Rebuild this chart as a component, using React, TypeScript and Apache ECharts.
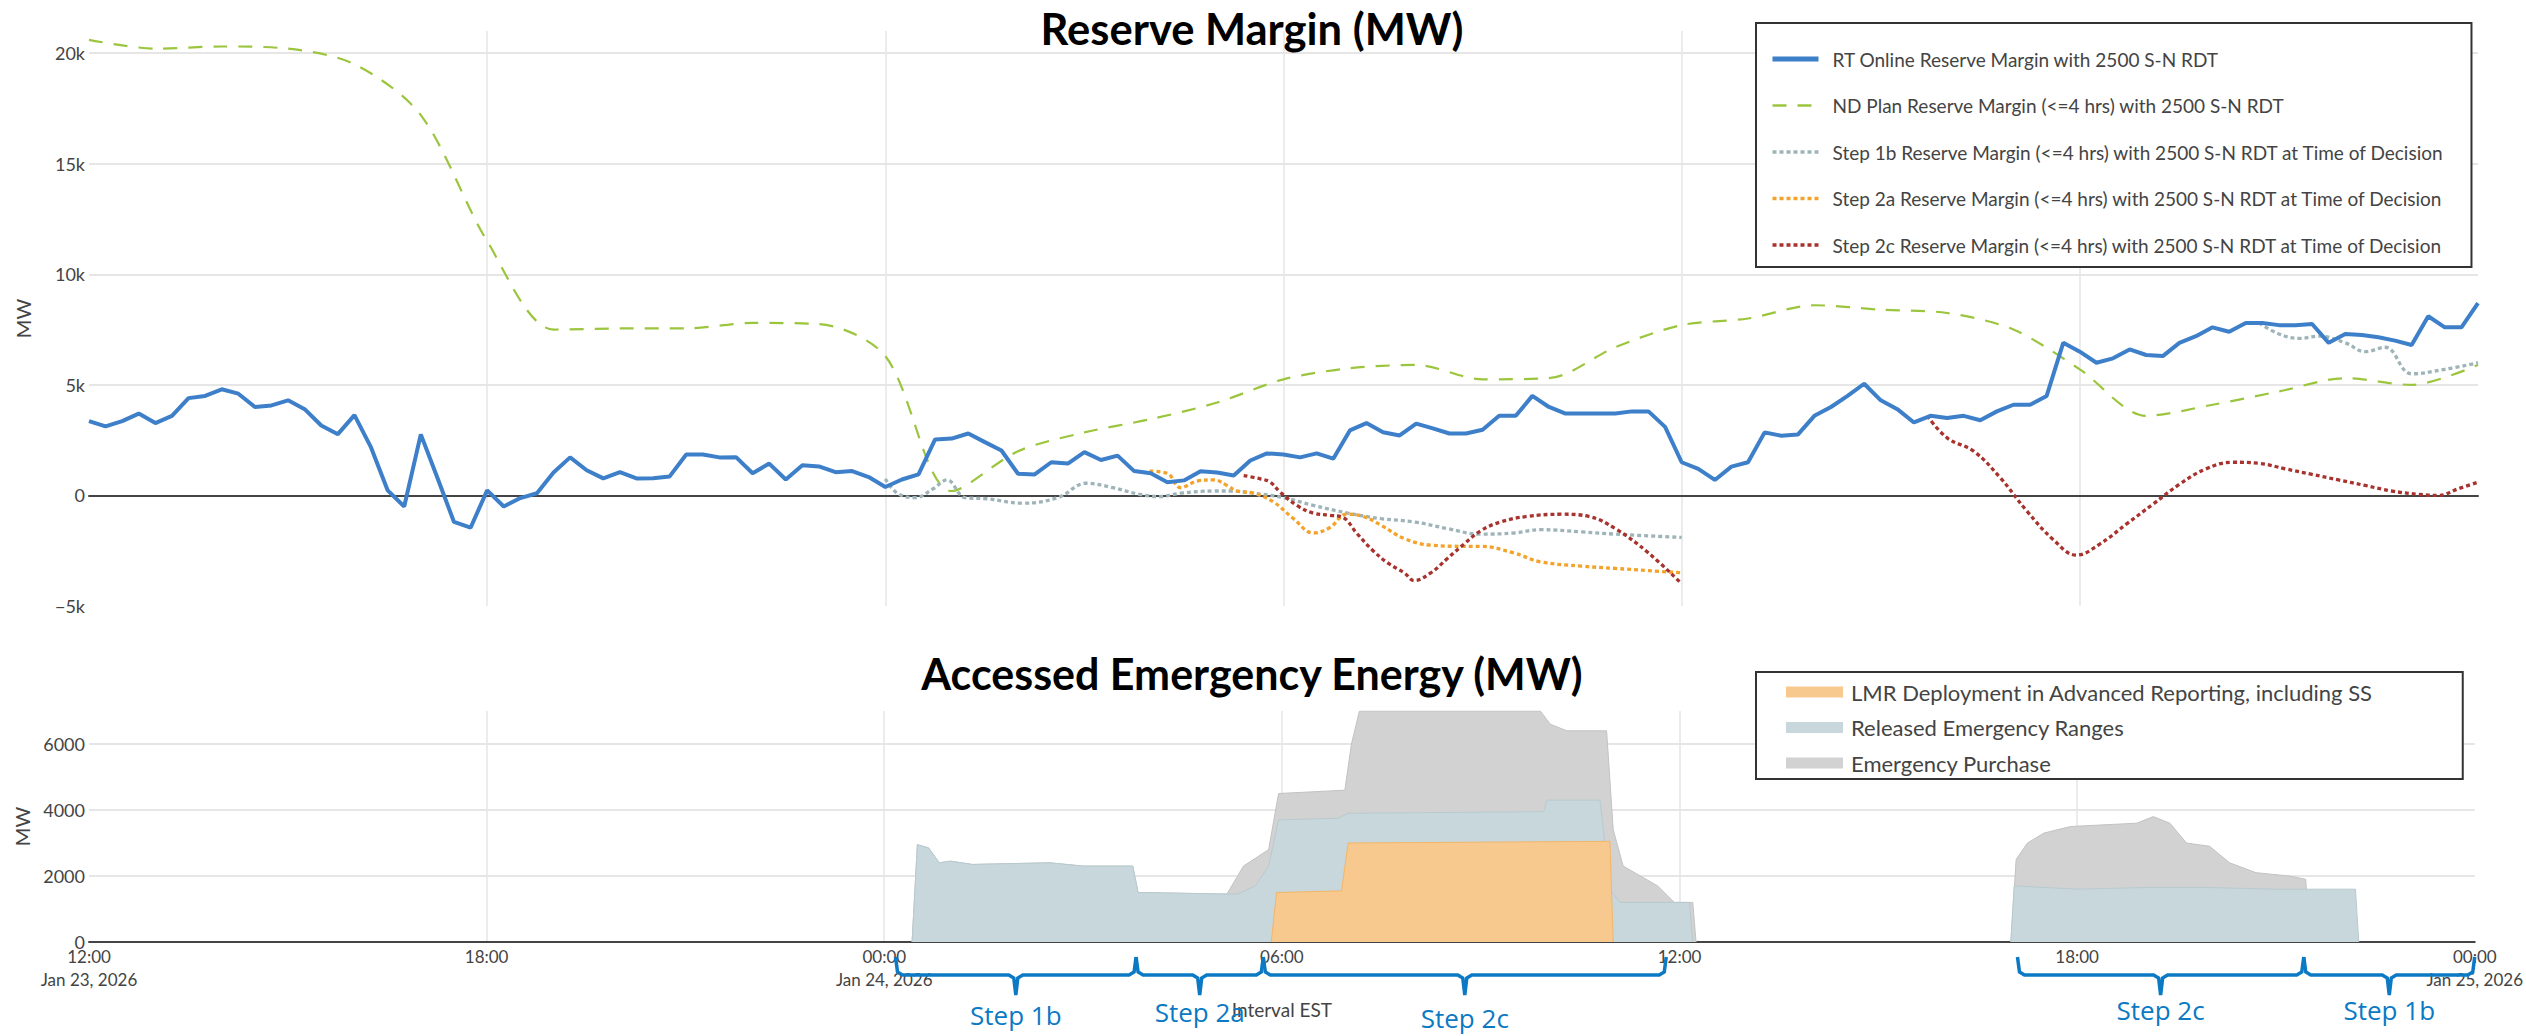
import { useEffect, useRef } from "react";
import * as echarts from "echarts";

// x values are hours since Jan 23, 2026 12:00 (EST)
const xTickLabels = [
  "12:00\nJan 23, 2026",
  "18:00",
  "00:00\nJan 24, 2026",
  "06:00",
  "12:00",
  "18:00",
  "00:00\nJan 25, 2026",
];

// RT Online Reserve Margin, 15-minute values from 12:00 Jan 23 to 00:00 Jan 25
const rtOnline = [
  3360, 3120, 3360, 3700, 3270, 3600, 4400, 4500, 4800, 4600, 4000, 4070,
  4300, 3900, 3160, 2770, 3630, 2170, 230, -500, 2760, 800, -1200, -1460,
  230, -500, -120, 100, 1040, 1720, 1140, 770, 1050, 770, 780, 860,
  1850, 1850, 1720, 1730, 1000, 1440, 720, 1360, 1310, 1050, 1100, 830,
  380, 720, 950, 2530, 2570, 2800, 2410, 2030, 980, 950, 1500, 1440,
  1960, 1600, 1800, 1100, 1000, 600, 680, 1090, 1040, 900, 1580, 1900,
  1850, 1720, 1900, 1660, 2940, 3270, 2860, 2710, 3250, 3030, 2800, 2800,
  2970, 3600, 3600, 4500, 4000, 3700, 3700, 3700, 3700, 3800, 3800, 3100,
  1500, 1200, 700, 1300, 1500, 2850, 2700, 2750, 3600, 4000, 4500, 5050,
  4300, 3900, 3300, 3600, 3500, 3600, 3400, 3800, 4100, 4100, 4500, 6900,
  6500, 6000, 6200, 6600, 6350, 6300, 6900, 7200, 7600, 7400, 7800, 7800,
  7700, 7700, 7750, 6900, 7300, 7250, 7150, 7000, 6800, 8100, 7600, 7600,
  8700,
];

// ND Plan Reserve Margin, hourly
const ndPlan = [
  20600, 20200, 20300, 20200, 19500, 17200, 11500, 7500, 7550, 7550, 7800, 7750,
  6300, 200, 2000, 2850, 3450, 4200, 5250, 5750, 5900, 5250, 5300, 6700,
  7700, 8000, 8600, 8400, 8250, 7500, 5700, 3600, 4100, 4700, 5300, 5000, 5900,
];

// [hours since start, MW]
const step1b: [number, number][] = [
  [12.0, 750], [12.18, 100], [12.45, -100], [12.72, 300], [12.93, 700], [13.2, -100],
  [13.52, -150], [14.07, -350], [14.6, -100], [15.03, 550], [15.43, 350], [15.83, 50],
  [16.13, -50], [16.45, 100], [16.95, 200], [17.2, 200], [17.55, 100], [18.0, -100],
  [18.45, -450], [18.97, -800], [19.47, -1050], [19.97, -1200], [20.47, -1500],
  [20.97, -1750], [21.47, -1700], [21.87, -1550], [22.5, -1650], [23.0, -1750], [24.0, -1900],
];
const step1bLate: [number, number][] = [
  [32.7, 7800], [33.0, 7300], [33.3, 7100], [33.6, 7200], [34.0, 6900], [34.3, 6500],
  [34.6, 6700], [35.0, 5500], [35.5, 5700], [36.0, 6000],
];
const step2a: [number, number][] = [
  [15.98, 1100], [16.25, 1000], [16.45, 350], [16.7, 650], [16.95, 700], [17.15, 450],
  [17.3, 200], [17.55, 100], [17.85, -300], [18.15, -1050], [18.45, -1700], [18.7, -1450],
  [18.95, -850], [19.2, -950], [19.47, -1350], [19.82, -1950], [20.22, -2250],
  [20.72, -2300], [20.97, -2300], [21.47, -2600], [21.87, -3000], [22.5, -3200],
  [23.0, -3300], [23.5, -3400], [24.0, -3500],
];
const step2c: [number, number][] = [
  [17.4, 900], [17.65, 750], [17.8, 600], [17.95, 150], [18.2, -450], [18.45, -800],
  [18.7, -900], [18.9, -1000], [19.1, -1700], [19.35, -2500], [19.57, -3050],
  [19.82, -3500], [19.97, -3850], [20.22, -3500], [20.47, -2850], [20.72, -2200],
  [20.97, -1600], [21.27, -1200], [21.67, -950], [22.2, -850], [22.6, -950],
  [23.0, -1500], [23.5, -2600], [24.0, -4000],
];
const step2cLate: [number, number][] = [
  [27.7, 3600], [28.0, 2600], [28.4, 2000], [28.8, 800], [29.2, -700], [29.6, -2000],
  [29.95, -2700], [30.3, -2200], [30.7, -1300], [31.1, -400], [31.5, 500], [31.9, 1200],
  [32.3, 1500], [32.7, 1450], [33.1, 1200], [33.5, 950], [33.9, 700], [34.3, 450],
  [34.7, 200], [35.1, 50], [35.4, 0], [35.7, 300], [36.0, 600],
];

// Bottom chart, breakpoints [hours since start, MW]; null breaks the area
const emergencyPurchase: [number, number | null][] = [
  [12.42, 0], [12.5, 2950], [12.67, 2850], [12.83, 2400], [13.0, 2450], [13.33, 2350],
  [14.5, 2400], [15.0, 2300], [15.75, 2300], [15.83, 1500], [17.17, 1450], [17.42, 2300],
  [17.8, 2800], [17.95, 4500], [18.95, 4600], [19.05, 6000], [19.17, 7000], [21.9, 7000],
  [22.05, 6600], [22.3, 6400], [22.9, 6400], [23.0, 3400], [23.15, 2300], [23.67, 1700],
  [23.92, 1200], [24.2, 1200], [24.25, 0], [26, null],
  [29.0, 0], [29.08, 2500], [29.25, 3000], [29.5, 3300], [29.9, 3500], [30.9, 3600],
  [31.15, 3800], [31.4, 3600], [31.65, 3000], [32.0, 2900], [32.3, 2400], [32.7, 2100],
  [33.2, 2000], [33.45, 1900], [33.5, 0],
];
const releasedRanges: [number, number | null][] = [
  [12.42, 0], [12.5, 2950], [12.67, 2850], [12.83, 2400], [13.0, 2450], [13.33, 2350],
  [14.5, 2400], [15.0, 2300], [15.75, 2300], [15.83, 1500], [17.33, 1450], [17.6, 1700],
  [17.8, 2300], [17.95, 3700], [18.85, 3750], [19.0, 3900], [21.95, 3950], [22.0, 4300],
  [22.8, 4300], [22.95, 1600], [23.1, 1200], [24.15, 1200], [24.2, 0], [26, null],
  [29.0, 0], [29.05, 1700], [30.0, 1600], [31.0, 1650], [32.0, 1650], [33.0, 1600],
  [34.2, 1600], [34.25, 0],
];
const lmrDeployment: [number, number | null][] = [
  [17.84, 0], [17.92, 1500], [18.9, 1550], [19.0, 3000], [22.95, 3050], [23.0, 0],
];

// Step braces: [start hour, end hour, label, label y]
const braces: [number, number, string, number][] = [
  [12.17, 15.8, "Step 1b", 1015],
  [15.8, 17.72, "Step 2a", 1012],
  [17.72, 23.8, "Step 2c", 1018],
  [29.1, 33.42, "Step 2c", 1010],
  [33.42, 36.0, "Step 1b", 1010],
];

const FONT = "Lato";
const BLUE = "#3d7fc8";
const GREEN = "#9cc53e";
const GRAYBLUE = "#9fb4b8";
const ORANGE = "#f3a32c";
const RED = "#a8322d";
const BRACE = "#0b79c4";

const NAME_RT = "RT Online Reserve Margin with 2500 S-N RDT";
const NAME_ND = "ND Plan Reserve Margin (<=4 hrs) with 2500 S-N RDT";
const NAME_1B = "Step 1b Reserve Margin (<=4 hrs) with 2500 S-N RDT at Time of Decision";
const NAME_2A = "Step 2a Reserve Margin (<=4 hrs) with 2500 S-N RDT at Time of Decision";
const NAME_2C = "Step 2c Reserve Margin (<=4 hrs) with 2500 S-N RDT at Time of Decision";
const NAME_LMR = "LMR Deployment in Advanced Reporting, including SS";
const NAME_RER = "Released Emergency Ranges";
const NAME_EP = "Emergency Purchase";

export default function App() {
  const ref = useRef<HTMLDivElement>(null);
  useEffect(() => {
    const chart = echarts.init(ref.current!, undefined, { renderer: "svg" });
    const grid = { color: "#e6e6e6", width: 1.5 };
    const dotted = (color: string) => ({ color, width: 3.3, type: [4, 3] as number[], cap: "butt" });
    const topLine = (name: string, data: any[], lineStyle: any, smooth: number | boolean, z = 2) => ({
      name,
      type: "line",
      xAxisIndex: 0,
      yAxisIndex: 0,
      data,
      symbol: "none",
      smooth,
      z,
      itemStyle: { color: lineStyle.color },
      lineStyle,
    });
    const area = (name: string, data: any[], fill: string, stroke: string, z: number) => ({
      name,
      type: "line",
      xAxisIndex: 1,
      yAxisIndex: 1,
      data,
      symbol: "none",
      connectNulls: false,
      z,
      itemStyle: { color: fill },
      lineStyle: { color: stroke, width: 1 },
      areaStyle: { color: fill, opacity: 1 },
    });
    const kfmt = (v: number) => (v === 0 ? "0" : v < 0 ? "\u2212" + Math.abs(v / 1000) + "k" : v / 1000 + "k");

    const option: any = {
      animation: false,
      backgroundColor: "#ffffff",
      textStyle: { fontFamily: FONT },
      grid: [
        { left: 89, right: 48, top: 31, height: 575 },
        { left: 89, right: 48, top: 711, height: 231 },
      ],
      xAxis: [
        {
          type: "value", gridIndex: 0, min: 0, max: 36, interval: 6,
          axisLabel: { show: false }, axisTick: { show: false },
          axisLine: { show: true, onZero: true, lineStyle: { color: "#444", width: 2 } },
          splitLine: { show: true, showMinLine: false, showMaxLine: false, lineStyle: grid },
        },
        {
          type: "value", gridIndex: 1, min: 0, max: 36, interval: 6,
          axisTick: { show: false },
          axisLine: { show: true, onZero: true, lineStyle: { color: "#444", width: 2 } },
          axisLabel: {
            formatter: (v: number) => xTickLabels[Math.round(v / 6)],
            fontSize: 17, lineHeight: 23, color: "#444", margin: 3, fontFamily: FONT,
          },
          splitLine: { show: true, showMinLine: false, showMaxLine: false, lineStyle: grid },
          name: "Interval EST", nameLocation: "middle", nameGap: 58,
          nameTextStyle: { fontSize: 19, color: "#444", fontFamily: FONT },
        },
      ],
      yAxis: [
        {
          type: "value", gridIndex: 0, min: -5000, max: 21000, interval: 5000,
          axisLine: { show: false }, axisTick: { show: false },
          axisLabel: { formatter: kfmt, fontSize: 18, color: "#444", margin: 4, showMaxLabel: false, fontFamily: FONT },
          splitLine: { show: true, showMinLine: false, showMaxLine: false, lineStyle: { color: "#e6e6e6", width: 2 } },
          name: "MW", nameLocation: "middle", nameGap: 56, nameRotate: 90,
          nameTextStyle: { fontSize: 20, color: "#444", fontFamily: FONT },
        },
        {
          type: "value", gridIndex: 1, min: 0, max: 7000, interval: 2000,
          axisLine: { show: false }, axisTick: { show: false },
          axisLabel: { formatter: (v: number) => String(v), fontSize: 18, color: "#444", margin: 4, showMaxLabel: false, fontFamily: FONT },
          splitLine: { show: true, showMinLine: false, showMaxLine: false, lineStyle: { color: "#e6e6e6", width: 2 } },
          name: "MW", nameLocation: "middle", nameGap: 56, nameRotate: 90,
          nameTextStyle: { fontSize: 20, color: "#444", fontFamily: FONT },
        },
      ],
      legend: [
        {
          orient: "vertical", left: 1756, top: 23, selectedMode: false,
          backgroundColor: "#fff", borderColor: "#333", borderWidth: 2,
          padding: [24, 27, 10, 14], itemGap: 22.5, itemWidth: 46, itemHeight: 14,
          itemStyle: { opacity: 0 },
          textStyle: { fontSize: 19, lineHeight: 24, color: "#444", fontFamily: FONT, padding: [0, 0, 0, 9] },
          data: [
            { name: NAME_RT, lineStyle: { width: 5 } },
            { name: NAME_ND, lineStyle: { width: 2.5 } },
            { name: NAME_1B, lineStyle: { width: 3.5 } },
            { name: NAME_2A, lineStyle: { width: 3.5 } },
            { name: NAME_2C, lineStyle: { width: 3.5 } },
          ],
        },
        {
          orient: "vertical", left: 1756, top: 672, selectedMode: false,
          backgroundColor: "#fff", borderColor: "#333", borderWidth: 2,
          padding: [8, 90, 4, 30], itemGap: 11.5, itemWidth: 57, itemHeight: 11,
          textStyle: { fontSize: 22, lineHeight: 24, color: "#444", fontFamily: FONT, padding: [0, 0, 0, 3] },
          data: [
            { name: NAME_LMR, icon: "rect", itemStyle: { color: "#f8c98e" } },
            { name: NAME_RER, icon: "rect", itemStyle: { color: "#c8d7db" } },
            { name: NAME_EP, icon: "rect", itemStyle: { color: "#d2d2d2" } },
          ],
        },
      ],
      series: [
        topLine(NAME_ND, ndPlan.map((v, i) => [i, v]), { color: GREEN, width: 2.2, type: [14, 11] }, 0.3),
        topLine(NAME_1B, [...step1b, [26, null], ...step1bLate], dotted(GRAYBLUE), 0.4),
        topLine(NAME_2A, step2a, dotted(ORANGE), 0.4),
        topLine(NAME_2C, [...step2c, [26, null], ...step2cLate], dotted(RED), 0.4),
        topLine(NAME_RT, rtOnline.map((v, i) => [i * 0.25, v]), { color: BLUE, width: 4 }, false, 5),
        area(NAME_EP, emergencyPurchase, "#d2d2d2", "#c2c2c2", 2),
        area(NAME_RER, releasedRanges, "#c8d7db", "#b8cacf", 3),
        area(NAME_LMR, lmrDeployment, "#f8c98e", "#f1b668", 4),
      ],
    };
    chart.setOption(option);

    const px = (h: number) => chart.convertToPixel({ xAxisIndex: 1 }, h) as number;
    const elements: any[] = [
      {
        type: "text", x: 1252, y: 28, z: 100,
        style: { text: "Reserve Margin (MW)", fontSize: 43.5, fontWeight: "bold", fontFamily: FONT, fill: "#000", align: "center", verticalAlign: "middle" },
      },
      {
        type: "text", x: 1252, y: 673, z: 100,
        style: { text: "Accessed Emergency Energy (MW)", fontSize: 43, fontWeight: "bold", fontFamily: FONT, fill: "#000", align: "center", verticalAlign: "middle" },
      },
    ];
    const yTop = 957, yLine = 975, yTip = 995;
    braces.forEach(([a, b, label, ly]) => {
      const x0 = px(a), x1 = px(b), xm = (x0 + x1) / 2;
      elements.push({
        type: "polyline", z: 100,
        shape: {
          points: [
            [x0, yTop], [x0 + 2, yLine - 3], [x0 + 7, yLine], [xm - 7, yLine], [xm - 2, yLine + 3],
            [xm, yTip], [xm + 2, yLine + 3], [xm + 7, yLine], [x1 - 7, yLine], [x1 - 2, yLine - 3], [x1, yTop],
          ],
        },
        style: { stroke: BRACE, lineWidth: 3.5, fill: null },
      });
      elements.push({
        type: "text", x: xm, y: ly, z: 100,
        style: { text: label, fontSize: 26, fontFamily: "Open Sans", fill: BRACE, align: "center", verticalAlign: "middle" },
      });
    });
    chart.setOption({ graphic: elements });
    return () => chart.dispose();
  }, []);
  return <div ref={ref} style={{ position: "fixed", left: 0, top: 0, width: 2526, height: 1036 }} />;
}
